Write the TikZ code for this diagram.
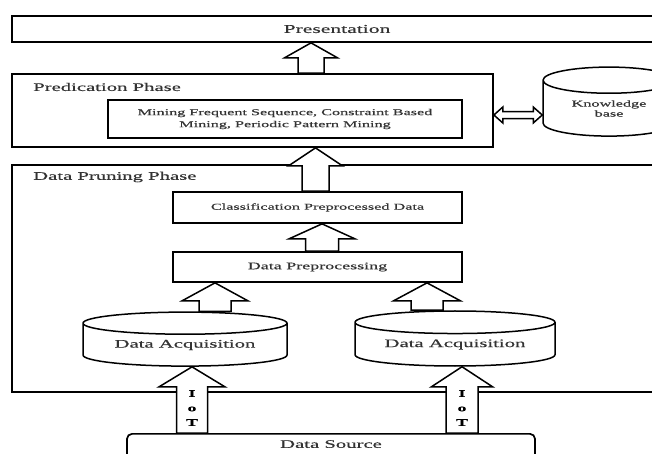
\documentclass[tikz,border=0pt]{standalone}
\usepackage{fontspec}
\setmainfont{Liberation Serif}[FakeStretch=1.8,FakeBold=0.5]
\usepackage{tikz}
\usetikzlibrary{calc,shapes.geometric}

\newcommand{\fatup}[5]{%
  \draw[fat] let \p1=#1, \p2=#2 in
    (\x2-#4,\y1) -- (\x2-#4,\y2-#5) -- (\x2-#3,\y2-#5) -- (\x2,\y2)
    -- (\x2+#3,\y2-#5) -- (\x2+#4,\y2-#5) -- (\x2+#4,\y1) -- cycle;}

\begin{document}
\begin{tikzpicture}[x=1pt,y=-1pt,
  box/.style={draw,line width=1.7pt,inner sep=0pt,text=black!80},
  phase/.style={anchor=west,inner sep=0pt,text=black!80,font=\fontsize{11.5}{12}\selectfont},
  tank/.style={draw,line width=1.5pt,cylinder,shape border rotate=90,inner sep=0pt,text=black!80},
  fat/.style={draw,line width=1.5pt,fill=white,line join=miter},
  iot/.style={align=center,inner sep=0pt,font=\fontsize{10}{14.5}\selectfont\bfseries}]
  \useasboundingbox (0,0) rectangle (652,453);
  \node[box,minimum width=650,minimum height=26,font=\fontsize{12}{13}\selectfont] (pres) at (337,29) {Presentation};
  \node[box,minimum width=481,minimum height=73] (pred) at (252.5,110.5) {};
  \node[phase] (predlbl) at (33,87) {Predication Phase};
  \node[box,line width=2.6pt,minimum width=354,minimum height=38,align=center,font=\fontsize{9}{12}\selectfont] (mine) at (285,119) {Mining Frequent Sequence, Constraint Based\\Mining, Periodic Pattern Mining};
  \node[tank,minimum width=132,minimum height=69,aspect=0.35,align=center,font=\fontsize{9}{10}\selectfont] (kb) at (609,108.5) {Knowledge\\base};
  \node[box,minimum width=650,minimum height=227] (prune) at (337,278.5) {};
  \node[phase] (prunelbl) at (33,177) {Data Pruning Phase};
  \node[box,minimum width=289,minimum height=31,font=\fontsize{9}{10}\selectfont] (clas) at (317.5,207.5) {Classification Preprocessed Data};
  \node[box,minimum width=289,minimum height=30,font=\fontsize{10}{11}\selectfont] (prep) at (317.5,267) {Data Preprocessing};
  \node[tank,minimum width=204,minimum height=54,aspect=0.157,font=\fontsize{11.5}{12}\selectfont] (acqL) at (185,345) {Data Acquisition};
  \node[tank,minimum width=200,minimum height=55,aspect=0.16,font=\fontsize{11.5}{12}\selectfont] (acqR) at (455,344.5) {Data Acquisition};
  \node[box,rounded corners=5pt,anchor=north,minimum width=408,text height=14pt,text depth=32pt,font=\fontsize{11.5}{12}\selectfont] (src) at (331,433) {Data Source};
  \coordinate (x1) at (311,0);
  \coordinate (x2) at (315.5,0);
  \coordinate (x3) at (322,0);
  \coordinate (x4) at (215,0);
  \coordinate (x5) at (427,0);
  \coordinate (x6) at (192,0);
  \coordinate (x7) at (462,0);
  \coordinate (lnk) at (0,115);
  \fatup{(pred.north)}{(pres.south -| x1)}{26.5pt}{13pt}{15pt}
  \fatup{(clas.north)}{(pred.south -| x2)}{27pt}{13.5pt}{18pt}
  \fatup{(prep.north)}{(clas.south -| x3)}{33pt}{16.5pt}{15pt}
  \fatup{(acqL.north)}{(prep.south -| x4)}{33pt}{16pt}{18pt}
  \fatup{(acqR.north)}{(prep.south -| x5)}{33.5pt}{16pt}{18pt}
  \fatup{(src.north)}{(acqL.south -| x6)}{33pt}{15.5pt}{20pt}
  \fatup{(src.north)}{(acqR.south -| x7)}{30.5pt}{16pt}{20pt}
  \draw[fat] let \p1=(pred.east |- lnk), \p2=(kb.west |- lnk) in
    (\x1,\y1) -- (\x1+9pt,\y1+8pt) -- (\x1+9pt,\y1+3.5pt) -- (\x2-9pt,\y1+3.5pt)
    -- (\x2-9pt,\y1+8pt) -- (\x2,\y1) -- (\x2-9pt,\y1-8pt) -- (\x2-9pt,\y1-3.5pt)
    -- (\x1+9pt,\y1-3.5pt) -- (\x1+9pt,\y1-8pt) -- cycle;
  \node[iot] (iotL) at (192,408) {I\\o\\T};
  \node[iot] (iotR) at (462,408) {I\\o\\T};
\end{tikzpicture}
\end{document}
